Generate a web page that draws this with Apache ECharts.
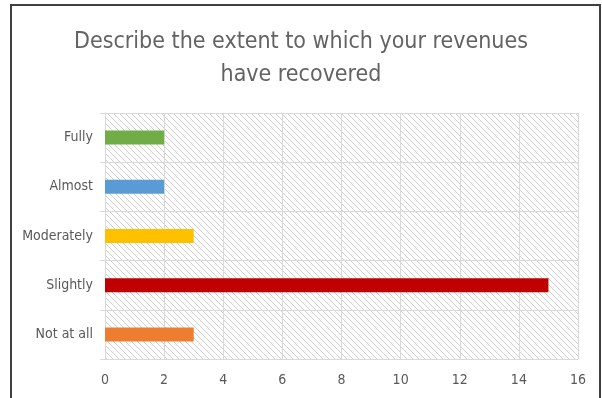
<!DOCTYPE html>
<html><head><meta charset="utf-8">
<script src="https://cdn.jsdelivr.net/npm/echarts@6/dist/echarts.min.js"></script>
<style>html,body{margin:0;padding:0;background:#fff}#c{width:602px;height:398px}</style>
</head><body><div id="c"></div>
<script>
const categories = ['Not at all', 'Slightly', 'Moderately', 'Almost', 'Fully'];
const values = [3, 15, 3, 2, 2];
const barColors = ['#ed7d31', '#c00000', '#ffc000', '#5b9bd5', '#70ad47'];
const xTicks = [0, 2, 4, 6, 8, 10, 12, 14, 16];
const titleText = 'Describe the extent to which your revenues\nhave recovered';

const tile = document.createElement('canvas');
tile.width = 6; tile.height = 6;
const tc = tile.getContext('2d');
tc.fillStyle = '#ffffff'; tc.fillRect(0, 0, 6, 6);
tc.strokeStyle = '#d0d0d0'; tc.lineWidth = 1;
tc.beginPath();
tc.moveTo(-1, -1); tc.lineTo(7, 7);
tc.moveTo(-1, 5); tc.lineTo(1, 7);
tc.moveTo(5, -1); tc.lineTo(7, 1);
tc.stroke();

const FONT = '"Liberation Sans Narrow", "DejaVu Sans Condensed", "Open Sans", sans-serif';
const chart = echarts.init(document.getElementById('c'), null, {renderer: 'canvas'});
chart.setOption({
  animation: false,
  title: {
    text: titleText, left: 'center', top: 21,
    textStyle: {fontFamily: FONT, fontSize: 23, fontWeight: 'normal', color: '#636363', lineHeight: 33}
  },
  graphic: [{
    type: 'rect', shape: {x: 11, y: 5, width: 589, height: 400},
    style: {fill: 'none', stroke: '#404040', lineWidth: 2}, silent: true
  }],
  grid: {
    left: 105, right: 24, top: 113, bottom: 39, show: true,
    backgroundColor: {image: tile, repeat: 'repeat'}, borderWidth: 0
  },
  xAxis: {
    type: 'value', min: xTicks[0], max: xTicks[xTicks.length - 1], interval: 2,
    axisLine: {show: false}, axisTick: {show: false},
    splitLine: {show: true, lineStyle: {color: '#d9d9d9', width: 1}},
    axisLabel: {fontFamily: FONT, fontSize: 14, color: '#595959', margin: 14}
  },
  yAxis: {
    type: 'category', data: categories,
    axisLine: {show: true, lineStyle: {color: '#d9d9d9'}},
    axisTick: {show: true, length: 5, lineStyle: {color: '#d9d9d9'}},
    splitLine: {show: true, lineStyle: {color: '#d9d9d9'}},
    axisLabel: {fontFamily: FONT, fontSize: 14, color: '#595959', margin: 12}
  },
  series: [{
    type: 'bar', barWidth: 14,
    data: values.map((v, i) => ({value: v, itemStyle: {color: barColors[i]}}))
  }]
});
</script></body></html>
